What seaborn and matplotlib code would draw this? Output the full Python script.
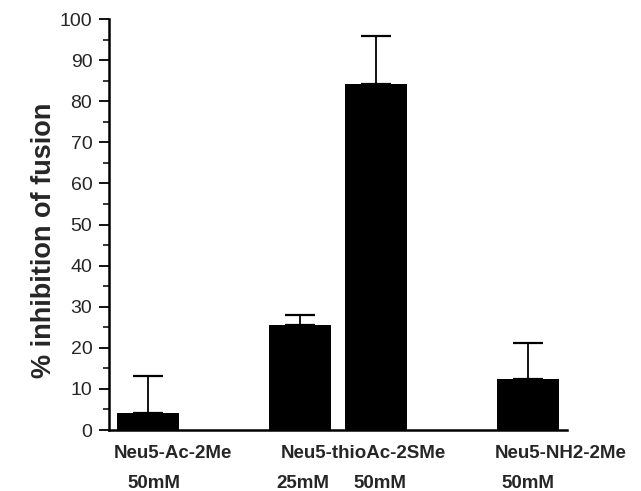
import matplotlib
matplotlib.use("Agg")
import matplotlib.pyplot as plt
import matplotlib.transforms as mtransforms
import seaborn as sns
import pandas as pd
import numpy as np

# ---- data ----
compounds = ["Neu5-Ac-2Me", "Neu5-thioAc-2SMe", "Neu5-NH2-2Me"]
concentrations = ["50mM", "25mM", "50mM", "50mM"]
bar_compound = ["Neu5-Ac-2Me", "Neu5-thioAc-2SMe", "Neu5-thioAc-2SMe", "Neu5-NH2-2Me"]
inhibition = [4.2, 25.5, 84.3, 12.4]
error_upper = [9.0, 2.4, 11.6, 8.7]
slot = [0, 2, 3, 5]          # layout slots of the bars along x
yticks = list(range(0, 101, 10))

df = pd.DataFrame({"slot": slot, "inhibition": inhibition,
                   "conc": concentrations, "compound": bar_compound})

sns.set_style("white")
plt.rcParams["font.family"] = ["Liberation Sans", "DejaVu Sans"]

fig = plt.figure(figsize=(6.41, 4.91), dpi=100)
ax = fig.add_axes([0.170, 0.1242, 0.715, 0.8371])

sns.barplot(data=df, x="slot", y="inhibition", native_scale=True,
            color="black", saturation=1, width=0.82, errorbar=None, ax=ax,
            edgecolor="black", linewidth=0)

ax.errorbar(df["slot"], df["inhibition"],
            yerr=[np.zeros(len(error_upper)), error_upper],
            fmt="none", ecolor="black", elinewidth=1.3, capsize=11,
            capthick=1.6)

ax.set_xlim(-0.513, 5.513)
ax.set_ylim(0, 100)
ax.set_yticks(yticks)
ax.set_yticks(np.arange(5, 100, 10), minor=True)
ax.tick_params(axis="y", which="major", direction="out", length=7, width=1.3,
               labelsize=14, pad=5, left=True, color="black")
ax.tick_params(axis="y", which="minor", direction="out", length=4, width=1.1,
               left=True, color="black")
ax.set_xticks([])
ax.set_xlabel("")
ax.set_ylabel("% inhibition of fusion", fontsize=19.5, fontweight="bold")
ax.yaxis.set_label_coords(-0.113, 0.462)

for side in ["top", "right"]:
    ax.spines[side].set_visible(False)
ax.spines["left"].set_linewidth(1.8)
ax.spines["bottom"].set_linewidth(1.8)
ax.spines["left"].set_color("black")
ax.spines["bottom"].set_color("black")

trans = mtransforms.blended_transform_factory(ax.transData, ax.transAxes)
group_x = [0.33, 2.83, 5.43]
for name, gx in zip(compounds, group_x):
    ax.text(gx, -0.056, name, transform=trans, ha="center", va="center",
            fontsize=13.5, fontweight="bold")
conc_x = [0.08, 2.03, 3.05, 4.99]
for c, cx in zip(concentrations, conc_x):
    ax.text(cx, -0.131, c, transform=trans, ha="center", va="center",
            fontsize=13.5, fontweight="bold")

fig.savefig("out.png", dpi=100, facecolor="white")
